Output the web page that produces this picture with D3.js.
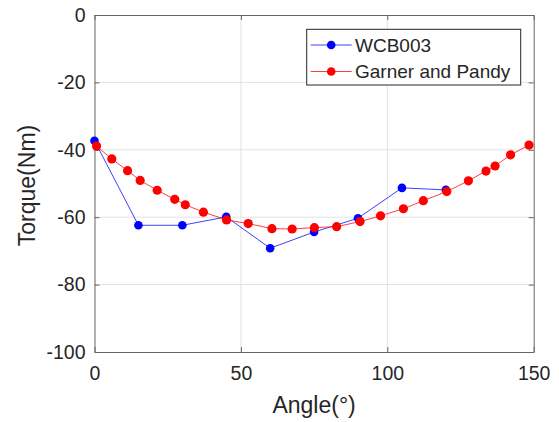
<!DOCTYPE html>
<html>
<head>
<meta charset="utf-8">
<script src="https://cdn.jsdelivr.net/npm/d3@7"></script>
<style>
  html, body { margin: 0; padding: 0; background: #fff; }
  svg { display: block; font-family: "Liberation Sans", Arial, sans-serif; }
</style>
</head>
<body>
<svg id="chart" width="559" height="422"></svg>
<script>
// Measured knee torque vs. joint angle
const wcbAngle  = [0, 15, 30, 45, 60, 75, 90, 105, 120];
const wcbTorque = [-37.3, -62.4, -62.4, -59.9, -69.2, -64.4, -60.3, -51.3, -51.9];

// Model curve (Garner and Pandy)
const gpAngle  = [0.7, 5.9, 11.3, 15.6, 21.4, 27.4, 31.0, 37.2, 45.1, 52.5, 60.6, 67.5,
                  75.1, 82.7, 90.7, 97.7, 105.5, 112.3, 120.3, 127.7, 133.7, 136.8, 142.1, 148.4];
const gpTorque = [-38.9, -42.7, -46.2, -49.1, -52.0, -54.7, -56.3, -58.5, -60.8, -61.9, -63.4, -63.5,
                  -63.1, -62.8, -61.3, -59.6, -57.5, -55.1, -52.4, -49.2, -46.3, -44.8, -41.5, -38.6];

const xTicks = [0, 50, 100, 150];
const yTicks = [0, -20, -40, -60, -80, -100];

const seriesNames = ["WCB003", "Garner and Pandy"];
const seriesColors = ["#0000ff", "#ff0000"];

const svg = d3.select("#chart");
const plotL = 94.5, plotR = 533.7, plotT = 15, plotB = 352;

const x = d3.scaleLinear().domain([0, 150]).range([plotL, plotR]);
const y = d3.scaleLinear().domain([-100, 0]).range([plotB, plotT]);

const textColor = "#262626";
const axisColor = "#666666";

// grid
const grid = svg.append("g");
grid.selectAll("line.gx").data(xTicks.slice(1, -1)).join("line")
  .attr("x1", d => x(d)).attr("x2", d => x(d))
  .attr("y1", plotT).attr("y2", plotB)
  .attr("stroke", "#e3e3e3").attr("stroke-width", 1);
grid.selectAll("line.gy").data(yTicks.slice(1, -1)).join("line")
  .attr("y1", d => y(d)).attr("y2", d => y(d))
  .attr("x1", plotL).attr("x2", plotR)
  .attr("stroke", "#e3e3e3").attr("stroke-width", 1);

// axes (box with inward ticks); labels use a plain hyphen for negatives
const fmt = d => String(d);
const xAxis = d3.axisBottom(x).tickValues(xTicks).tickFormat(fmt).tickSizeInner(-5).tickSizeOuter(0).tickPadding(14);
const yAxis = d3.axisLeft(y).tickValues(yTicks).tickFormat(fmt).tickSizeInner(-5).tickSizeOuter(0).tickPadding(9);
const xTop = d3.axisTop(x).tickValues(xTicks).tickFormat("").tickSizeInner(-5).tickSizeOuter(0);
const yRight = d3.axisRight(y).tickValues(yTicks).tickFormat("").tickSizeInner(-5).tickSizeOuter(0);

function styleAxis(g) {
  g.selectAll("path").attr("stroke", axisColor).attr("stroke-width", 1);
  g.selectAll("line").attr("stroke", axisColor);
  g.selectAll("text").attr("fill", textColor).style("font-size", "19.5px")
    .style("font-family", "'Liberation Sans', Arial, sans-serif");
}
svg.append("g").attr("transform", `translate(0,${plotB})`).call(xAxis).call(styleAxis);
svg.append("g").attr("transform", `translate(${plotL},0)`).call(yAxis).call(styleAxis);
svg.append("g").attr("transform", `translate(0,${plotT})`).call(xTop).call(styleAxis);
svg.append("g").attr("transform", `translate(${plotR},0)`).call(yRight).call(styleAxis);

// axis titles
svg.append("text").attr("x", (plotL + plotR) / 2).attr("y", 413)
  .attr("text-anchor", "middle").attr("fill", textColor).style("font-size", "23px")
  .text("Angle(°)");
svg.append("text").attr("transform", `translate(35,${(plotT + plotB) / 2 + 2}) rotate(-90)`)
  .attr("text-anchor", "middle").attr("fill", textColor).style("font-size", "23px")
  .text("Torque(Nm)");

// series
const series = [
  { xs: wcbAngle, ys: wcbTorque, r: 4.3 },
  { xs: gpAngle, ys: gpTorque, r: 4.6 }
];
const line = d3.line().x(d => x(d[0])).y(d => y(d[1]));
series.forEach((s, i) => {
  const pts = s.xs.map((a, j) => [a, s.ys[j]]);
  const g = svg.append("g");
  g.append("path").datum(pts).attr("d", line)
    .attr("fill", "none").attr("stroke", seriesColors[i]).attr("stroke-width", 1)
    .attr("stroke-opacity", 0.75);
  g.selectAll("circle").data(pts).join("circle")
    .attr("cx", d => x(d[0])).attr("cy", d => y(d[1])).attr("r", s.r)
    .attr("fill", seriesColors[i]);
});

// legend
const lg = svg.append("g");
lg.append("rect").attr("x", 306.7).attr("y", 29.3).attr("width", 214).attr("height", 55.7)
  .attr("fill", "#fff").attr("stroke", "#262626").attr("stroke-width", 1);
seriesNames.forEach((name, i) => {
  const cy = 45 + i * 26.5;
  lg.append("line").attr("x1", 310.7).attr("x2", 351.7).attr("y1", cy).attr("y2", cy)
    .attr("stroke", seriesColors[i]).attr("stroke-width", 1).attr("stroke-opacity", 0.75);
  lg.append("circle").attr("cx", 331.2).attr("cy", cy).attr("r", 4.3).attr("fill", seriesColors[i]);
  lg.append("text").attr("x", 355).attr("y", cy).attr("dy", "0.35em")
    .attr("fill", textColor).style("font-size", "19px").text(name);
});
</script>
</body>
</html>
